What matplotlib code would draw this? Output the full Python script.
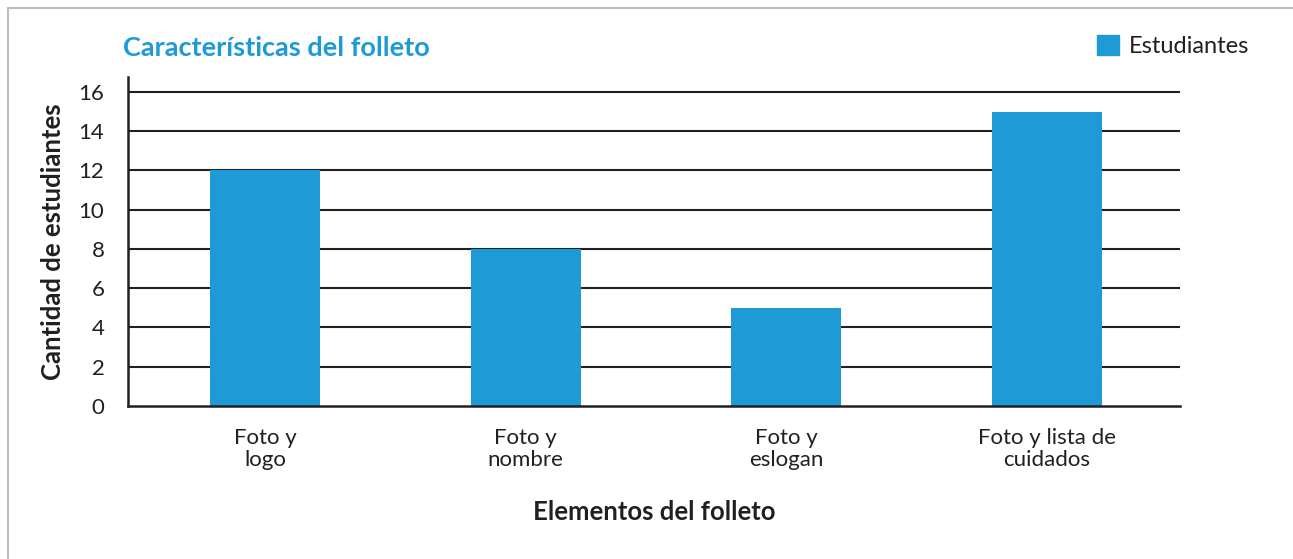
import matplotlib
matplotlib.use("Agg")
import matplotlib.pyplot as plt
from matplotlib.lines import Line2D
from matplotlib.patches import Patch

categories = ["Foto y\nlogo", "Foto y\nnombre", "Foto y\neslogan", "Foto y lista de\ncuidados"]
values = [12, 8, 5, 15]
series_name = "Estudiantes"
yticks = [0, 2, 4, 6, 8, 10, 12, 14, 16]

BLUE = "#1E9AD6"
DARK = "#231F20"

plt.rcParams['font.family'] = ['Lato', 'DejaVu Sans']

fig = plt.figure(figsize=(12.93, 5.59), dpi=100)
ax = fig.add_axes([128/1293, 1-406/559, (1180-128)/1293, (406-77)/559])

x = list(range(len(categories)))
ax.bar(x, values, width=0.422, color=BLUE, zorder=3, label=series_name)
ax.set_xlim(-0.526, 3.512)
ax.set_ylim(0, 16.76)
ax.set_yticks(yticks)
ax.set_yticklabels([str(t) for t in yticks])
ax.set_xticks(x)
ax.set_xticklabels(categories, linespacing=1.1)
ax.tick_params(axis='both', length=0, labelsize=16, colors=DARK)
ax.tick_params(axis='y', pad=17)
ax.tick_params(axis='x', pad=16)
for t in yticks[1:]:
    ax.axhline(t, color=DARK, linewidth=1.5, zorder=1)
for s in ['top', 'right']:
    ax.spines[s].set_visible(False)
ax.spines['left'].set_color(DARK)
ax.spines['left'].set_linewidth(1.8)
ax.spines['bottom'].set_color(DARK)
ax.spines['bottom'].set_linewidth(1.8)
ax.spines['bottom'].set_zorder(4)

ax.set_ylabel("Cantidad de estudiantes", fontsize=18.5, fontweight='bold', color=DARK, labelpad=10)
ax.set_xlabel("Elementos del folleto", fontsize=18.5, fontweight='bold', color=DARK, labelpad=22)

fig.text(123/1293, 1-48/559, "Características del folleto", fontsize=19.5, fontweight='bold',
         color=BLUE, ha='left', va='center')

leg = fig.legend(handles=[Patch(color=BLUE, label=series_name)], loc='center left',
                 bbox_to_anchor=(1097/1293, 1-46/559), frameon=False, fontsize=17,
                 handlelength=0.95, handleheight=0.95, handletextpad=0.38,
                 borderpad=0, borderaxespad=0, labelcolor=DARK)

# frame lines
fig.add_artist(Line2D([8/1293, 1], [1-8/559, 1-8/559], transform=fig.transFigure, color="#BDBDBD", linewidth=1.5))
fig.add_artist(Line2D([8/1293, 8/1293], [0, 1-8/559], transform=fig.transFigure, color="#BDBDBD", linewidth=1.5))

fig.savefig("out.png", dpi=100)
